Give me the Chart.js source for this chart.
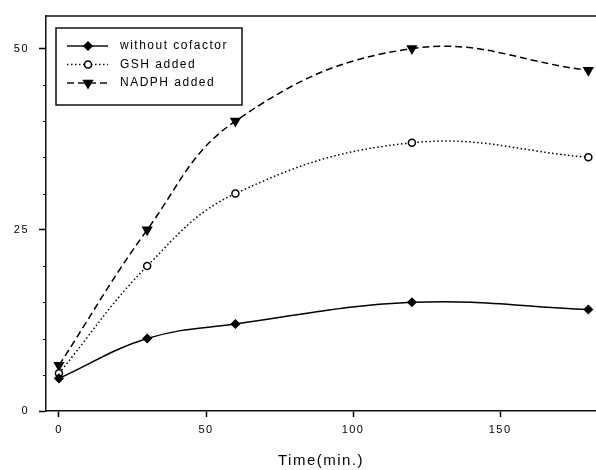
<!DOCTYPE html>
<html>
<head>
<meta charset="utf-8">
<script src="https://cdn.jsdelivr.net/npm/chart.js@4/dist/chart.umd.min.js"></script>
<style>
body { margin: 0; background: #fff; overflow: hidden; }
#wrap { width: 596px; height: 470px; }
</style>
</head>
<body>
<div id="wrap"><canvas id="chart" width="596" height="470"></canvas></div>
<script>
// time points (min)
const times = [0, 30, 60, 120, 180];
const withoutCofactor = [4.5, 10, 12, 15, 14];
const gshAdded = [5.2, 20, 30, 37, 35];
const nadphAdded = [6.3, 25, 40, 50, 47];
const seriesNames = ['without cofactor', 'GSH added', 'NADPH added'];
const yLabelTicks = [0, 25, 50];
const xTitle = 'Time(min.)';

const FONT = "'Liberation Sans', Arial, sans-serif";

function pts(vals) {
    return times.map((t, i) => ({ x: t, y: vals[i] }));
}

// little marker drawer for the legend box
function drawMarker(ctx, ds, x, y) {
    ctx.save();
    ctx.lineWidth = 1.5;
    ctx.strokeStyle = '#000';
    ctx.fillStyle = ds.pointBackgroundColor;
    ctx.beginPath();
    const r = ds.pointRadius;
    if (ds.pointStyle === 'rectRot') {
        ctx.moveTo(x, y - r); ctx.lineTo(x + r, y); ctx.lineTo(x, y + r); ctx.lineTo(x - r, y);
    } else if (ds.pointStyle === 'triangle') {
        ctx.moveTo(x - r * 0.87, y - r * 0.5); ctx.lineTo(x + r * 0.87, y - r * 0.5); ctx.lineTo(x, y + r);
    } else {
        ctx.arc(x, y, r, 0, Math.PI * 2);
    }
    ctx.closePath();
    ctx.fill();
    ctx.stroke();
    ctx.restore();
}

const framePlugin = {
    id: 'frame',
    beforeDraw(chart) {
        chart.ctx.letterSpacing = '1.5px';
    },
    afterDraw(chart) {
        const ctx = chart.ctx;
        const a = chart.chartArea;
        const ys = chart.scales.y;
        ctx.save();
        ctx.strokeStyle = '#111';
        ctx.lineWidth = 1.5;
        // top border of the frame
        ctx.beginPath();
        ctx.moveTo(a.left, a.top);
        ctx.lineTo(a.right, a.top);
        ctx.stroke();
        // short minor ticks on y every 5
        ctx.lineWidth = 1;
        for (let v = 5; v < ys.max; v += 5) {
            if (v % 25 === 0) continue;
            const py = Math.round(ys.getPixelForValue(v)) + 0.5;
            ctx.beginPath();
            ctx.moveTo(a.left - 3, py);
            ctx.lineTo(a.left, py);
            ctx.stroke();
        }
        // legend box
        const bx = a.left + 10, by = a.top + 12, bw = 186, bh = 77;
        ctx.lineWidth = 1.5;
        ctx.strokeRect(bx, by, bw, bh);
        ctx.font = '12px ' + FONT;
        ctx.letterSpacing = '1.5px';
        ctx.fillStyle = '#000';
        ctx.textBaseline = 'middle';
        chart.data.datasets.forEach((ds, i) => {
            const ry = by + 18 + i * 18.5;
            ctx.save();
            ctx.lineWidth = ds.borderWidth;
            ctx.setLineDash(ds.borderDash || []);
            ctx.beginPath();
            ctx.moveTo(bx + 11, ry);
            ctx.lineTo(bx + 52, ry);
            ctx.stroke();
            ctx.restore();
            drawMarker(ctx, ds, bx + 32, ry);
            ctx.fillText(ds.label, bx + 64, ry);
        });
        ctx.restore();
    }
};

new Chart(document.getElementById('chart'), {
    type: 'line',
    data: {
        datasets: [
            {
                label: seriesNames[0],
                data: pts(withoutCofactor),
                borderColor: '#000',
                borderWidth: 1.5,
                pointStyle: 'rectRot',
                pointRadius: 4,
                pointBackgroundColor: '#000',
                pointBorderColor: '#000'
            },
            {
                label: seriesNames[1],
                data: pts(gshAdded),
                borderColor: '#000',
                borderWidth: 1.5,
                borderDash: [1.5, 2.5],
                pointStyle: 'circle',
                pointRadius: 3.5,
                pointBorderWidth: 1.5,
                pointBackgroundColor: '#fff',
                pointBorderColor: '#000'
            },
            {
                label: seriesNames[2],
                data: pts(nadphAdded),
                borderColor: '#000',
                borderWidth: 1.5,
                borderDash: [7, 4],
                pointStyle: 'triangle',
                pointRotation: 180,
                pointRadius: 5,
                pointBackgroundColor: '#000',
                pointBorderColor: '#000'
            }
        ]
    },
    options: {
        responsive: false,
        animation: false,
        tension: 0.4,
        layout: { autoPadding: false, padding: { top: 16, right: 0, left: 0, bottom: 0 } },
        plugins: {
            legend: { display: false },
            tooltip: { enabled: false }
        },
        scales: {
            x: {
                type: 'linear',
                min: -4.4,
                max: 182.6,
                grid: { drawOnChartArea: false, tickLength: 6, tickColor: '#000', tickWidth: 1.5 },
                border: { color: '#111', width: 1.5 },
                ticks: {
                    stepSize: 50,
                    includeBounds: false,
                    padding: 6,
                    color: '#000',
                    font: { family: FONT, size: 11 }
                },
                title: {
                    display: true,
                    text: xTitle,
                    color: '#000',
                    font: { family: FONT, size: 15 },
                    padding: { top: 9, bottom: 0 }
                },
                afterFit(scale) {
                    scale.height = 59;
                    scale.paddingLeft = 0;
                    scale.paddingRight = 0;
                }
            },
            y: {
                min: 0,
                max: 54.5,
                grid: {
                    drawOnChartArea: false,
                    tickLength: 7,
                    tickWidth: 1.5,
                    tickColor: c => (c.tick && c.tick.value % 25 === 0) ? '#000' : 'rgba(0,0,0,0)'
                },
                border: { color: '#111', width: 1.5 },
                ticks: {
                    stepSize: 5,
                    includeBounds: false,
                    padding: 10,
                    color: '#000',
                    font: { family: FONT, size: 11 },
                    callback: v => yLabelTicks.includes(v) ? v : ''
                },
                afterFit(scale) {
                    scale.width = 46;
                    scale.paddingTop = 0;
                    scale.paddingBottom = 0;
                }
            }
        }
    },
    plugins: [framePlugin]
});
</script>
</body>
</html>
